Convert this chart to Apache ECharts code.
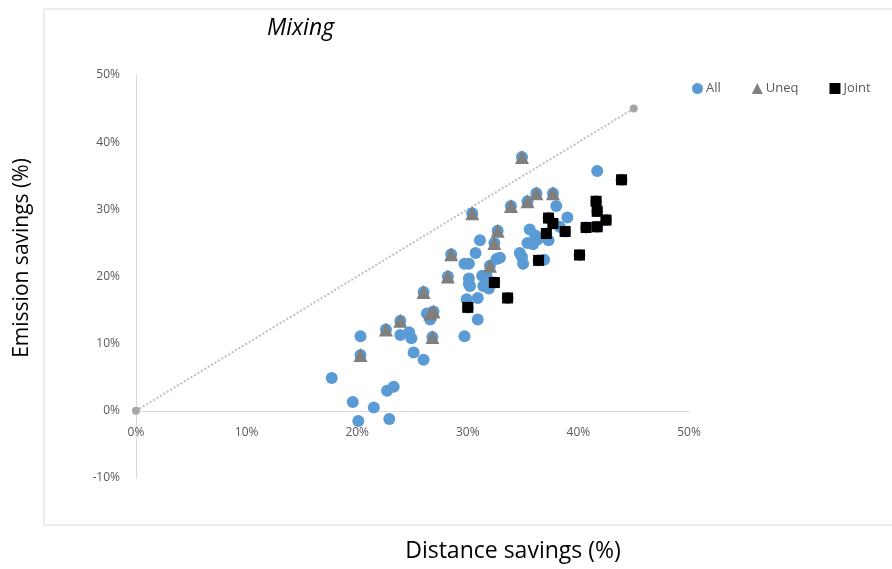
<!DOCTYPE html>
<html>
<head>
<meta charset="utf-8">
<script src="https://cdn.jsdelivr.net/npm/echarts@6/dist/echarts.min.js"></script>
<style>
  html, body { margin: 0; padding: 0; background: #fff; }
  #main { width: 892px; height: 569px; }
</style>
</head>
<body>
<div id="main"></div>
<script>
// values in percent: [distance savings, emission savings]
var allOnly = [
  [17.7, 4.9], [19.6, 1.3], [20.1, -1.5], [20.3, 11.1], [21.5, 0.5], [22.7, 3.0],
  [23.3, 3.6], [22.9, -1.2], [23.9, 11.3], [24.7, 11.7], [24.9, 10.8], [25.1, 8.7],
  [26.0, 7.6], [26.3, 14.5], [26.6, 13.6], [29.7, 11.1], [29.9, 16.6], [29.7, 21.9],
  [30.1, 21.9], [30.1, 19.7], [30.1, 18.9], [30.2, 18.6], [30.7, 23.5], [30.9, 16.8],
  [30.9, 13.6], [31.1, 25.4], [31.3, 20.1], [31.4, 18.6], [31.7, 20.1], [31.9, 18.2],
  [31.8, 19.3], [32.6, 22.6], [32.9, 22.8], [34.7, 23.5], [34.9, 22.9], [35.0, 21.9],
  [35.4, 25.0], [35.6, 27.0], [35.9, 24.8], [36.1, 26.1], [36.3, 25.5], [36.9, 22.5],
  [37.3, 25.4], [38.0, 30.5], [38.3, 27.4], [39.0, 28.8], [41.7, 35.7], [35.9, 25.0]
];
var uneq = [
  [20.3, 8.3], [22.6, 12.1], [23.9, 13.4], [26.0, 17.7], [26.6, 14.5], [26.9, 14.8],
  [26.8, 11.0], [28.2, 20.0], [28.5, 23.3], [30.4, 29.4], [32.0, 21.6], [32.4, 25.0],
  [32.7, 26.8], [33.9, 30.5], [34.9, 37.8], [35.4, 31.2], [36.2, 32.4], [37.7, 32.4]
];
var joint = [
  [30.0, 15.4], [32.4, 19.1], [33.6, 16.8], [36.4, 22.4], [37.1, 26.4], [37.3, 28.7],
  [37.7, 27.9], [38.8, 26.7], [40.1, 23.2], [40.7, 27.3], [41.6, 31.2], [41.7, 29.7],
  [41.7, 27.4], [42.5, 28.4], [43.9, 34.4]
];
var refLine = [[0, 0], [45, 45]];
var seriesNames = ['All', 'Uneq', 'Joint'];

var chart = echarts.init(document.getElementById('main'));
var tickFont = { color: '#595959', fontSize: 12, fontFamily: 'Open Sans' };

var option = {
  animation: false,
  backgroundColor: '#fff',
  grid: { left: 136, right: 203, top: 75, bottom: 91, containLabel: false },
  legend: {
    data: [
      { name: seriesNames[0], icon: 'circle' },
      { name: seriesNames[1], icon: 'triangle', itemStyle: { color: '#808080' } },
      { name: seriesNames[2], icon: 'rect' }
    ],
    left: 687, top: 77,
    itemWidth: 11, itemHeight: 11, itemGap: 31,
    textStyle: { color: '#595959', fontSize: 13, fontFamily: 'Open Sans', padding: [0, 0, 0, -2] }
  },
  xAxis: {
    type: 'value', min: 0, max: 50, interval: 10,
    // the axis sits on the 0% line, one 10% step above the bottom of the plot
    offset: -67.2,
    axisLine: { onZero: false, lineStyle: { color: '#d9d9d9', width: 1 } },
    axisTick: { show: false },
    splitLine: { show: false },
    axisLabel: Object.assign({ formatter: '{value}%', margin: 16 }, tickFont)
  },
  yAxis: {
    type: 'value', min: -10, max: 50, interval: 10,
    axisLine: { show: true, onZero: false, lineStyle: { color: '#d9d9d9', width: 1 } },
    axisTick: { show: false },
    splitLine: { show: false },
    axisLabel: Object.assign({ formatter: '{value}%', margin: 16 }, tickFont)
  },
  graphic: [
    { type: 'rect', shape: { x: 44, y: 9, width: 900, height: 516 }, style: { fill: 'none', stroke: '#d9d9d9', lineWidth: 1 }, silent: true },
    { type: 'text', left: 267, top: 17, style: { text: 'Mixing', fill: '#000', font: 'italic 23px "Open Sans"' } },
    { type: 'text', x: 22, y: 258, rotation: Math.PI / 2, style: { text: 'Emission savings (%)', fill: '#000', font: '21px "Open Sans"', align: 'center', verticalAlign: 'middle' } },
    { type: 'text', x: 513, y: 551, style: { text: 'Distance savings (%)', fill: '#000', font: '23px "Open Sans"', align: 'center', verticalAlign: 'middle' } }
  ],
  series: [
    {
      type: 'line', data: refLine, symbol: 'circle', symbolSize: 8,
      itemStyle: { color: '#a6a6a6' },
      lineStyle: { color: '#bfbfbf', type: 'dotted', width: 2 },
      silent: true, z: 1
    },
    {
      name: seriesNames[0], type: 'scatter', symbol: 'circle', symbolSize: 12,
      itemStyle: { color: '#5b9bd5', opacity: 1 },
      data: allOnly.concat(uneq, joint), z: 2
    },
    {
      name: seriesNames[1], type: 'scatter', symbol: 'triangle', symbolSize: 14,
      itemStyle: { color: '#7f7f7f', opacity: 1 },
      data: uneq, z: 3
    },
    {
      name: seriesNames[2], type: 'scatter', symbol: 'rect', symbolSize: 11,
      itemStyle: { color: '#000', opacity: 1 },
      data: joint, z: 4
    }
  ]
};

chart.setOption(option);
</script>
</body>
</html>
